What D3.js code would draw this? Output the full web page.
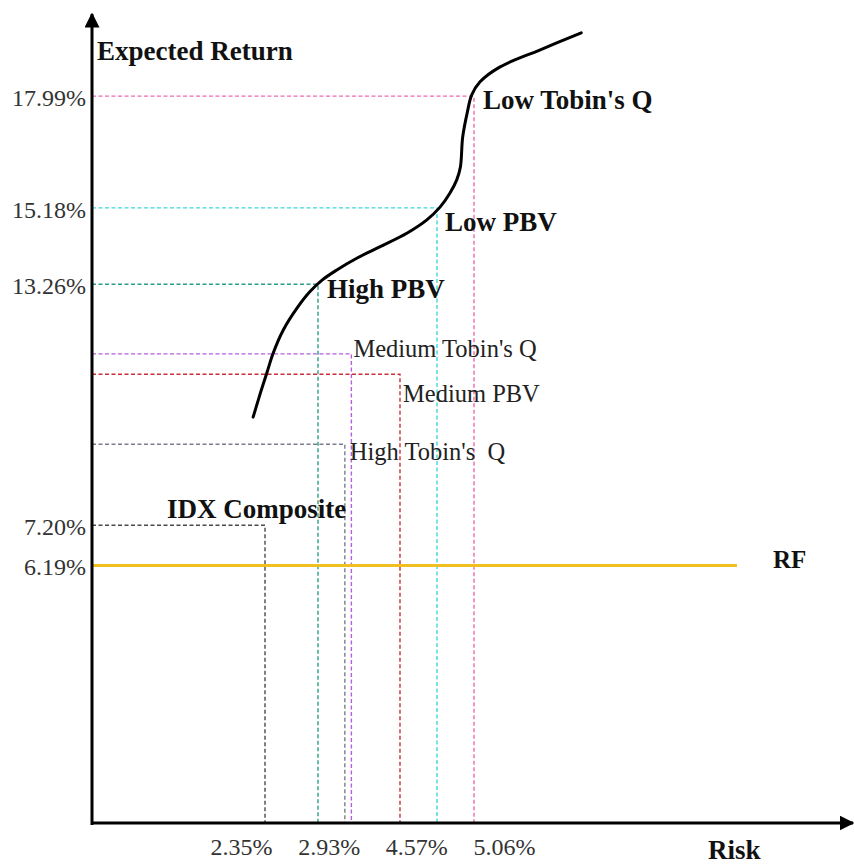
<!DOCTYPE html>
<html><head><meta charset="utf-8">
<script src="https://cdn.jsdelivr.net/npm/d3@7"></script>
<style>
html,body{margin:0;padding:0;background:#fff;}
svg{display:block;font-family:"Liberation Serif","DejaVu Serif",serif;}
</style></head>
<body>
<svg id="chart" width="854" height="865"></svg>
<script>
// ---- data ----
const portfolios = ["IDX Composite","High PBV","High Tobin's  Q","Medium Tobin's Q","Medium PBV","Low PBV","Low Tobin's Q"];
const portfolioReturn = [7.20, 13.26, 9.24, 11.51, 11.00, 15.18, 17.99];
const portfolioRisk   = [2.35, 2.93, 3.30, 3.39, 4.06, 4.57, 5.06];
const portfolioColor  = ["#4a4a4a","#2a9e86","#7c7c90","#b45ee0","#c8303c","#3fd9d9","#f06aae"];
const portfolioBold   = [true, true, false, false, false, true, true];
const yTickLabels = ["17.99%","15.18%","13.26%","7.20%","6.19%"];
const yTickValues = [17.99, 15.18, 13.26, 7.20, 6.19];
const xTickLabels = ["2.35%","2.93%","4.57%","5.06%"];
const xTickValues = [2.35, 2.93, 4.57, 5.06];
const rfRate = 6.19;
const frontierRisk   = [2.22,2.30,2.37,2.44,2.55,2.70,2.84,2.99,3.19,3.47,3.78,4.16,4.43,4.61,4.74,4.83,4.88,4.91,4.97,5.03,5.14,5.40,5.93,6.48];
const frontierReturn = [9.92,10.53,11.03,11.53,12.11,12.66,13.07,13.37,13.62,13.92,14.20,14.55,14.88,15.20,15.55,15.88,16.21,16.96,17.57,18.02,18.35,18.72,19.15,19.58];

// ---- layout ----
const svg = d3.select("#chart");
const axisX = 92, axisY = 823, axisTop = 14, axisRight = 853;
const y = d3.scaleLinear().domain([0, 20]).range([811.7, 16.2]);
const x = d3.scaleLinear().domain(xTickValues).range([265, 318, 437, 474]);
const xLab = d3.scalePoint().domain(xTickLabels).range([241, 504]);

// dashed guide lines
const g = svg.append("g");
portfolios.forEach((p, i) => {
  const px = x(portfolioRisk[i]), py = y(portfolioReturn[i]);
  g.append("path")
    .attr("d", `M${axisX},${py}H${px}V${axisY}`)
    .attr("fill", "none")
    .attr("stroke", portfolioColor[i])
    .attr("stroke-width", 1.4)
    .attr("stroke-dasharray", "4,2.5");
});

// RF line
svg.append("line")
  .attr("x1", axisX).attr("x2", 737)
  .attr("y1", y(rfRate)).attr("y2", y(rfRate))
  .attr("stroke", "#f0c020").attr("stroke-width", 3);

// frontier curve
const line = d3.line().x(d => x(d[0])).y(d => y(d[1])).curve(d3.curveCatmullRom.alpha(0.5));
svg.append("path")
  .attr("d", line(frontierRisk.map((r, i) => [r, frontierReturn[i]])))
  .attr("fill", "none").attr("stroke", "#000").attr("stroke-width", 3)
  .attr("stroke-linecap", "round");

// axes with arrows
svg.append("defs").append("marker")
  .attr("id", "arr").attr("viewBox", "0 0 10 10").attr("refX", 9).attr("refY", 5)
  .attr("markerWidth", 5).attr("markerHeight", 5).attr("orient", "auto")
  .append("path").attr("d", "M0,0L10,5L0,10Z").attr("fill", "#000");
svg.append("line").attr("x1", axisX).attr("y1", axisY + 2).attr("x2", axisX).attr("y2", axisTop)
  .attr("stroke", "#000").attr("stroke-width", 3).attr("marker-end", "url(#arr)");
svg.append("line").attr("x1", axisX - 1).attr("y1", axisY).attr("x2", axisRight).attr("y2", axisY)
  .attr("stroke", "#000").attr("stroke-width", 3).attr("marker-end", "url(#arr)");

// y tick labels
svg.append("g").selectAll("text").data(yTickValues).join("text")
  .attr("x", 86).attr("y", d => y(d)).attr("dy", "0.4em")
  .attr("text-anchor", "end").attr("font-size", 24).attr("fill", "#333")
  .text((d, i) => yTickLabels[i]);

// x tick labels
const xAxis = d3.axisBottom(xLab).tickSize(0).tickPadding(0);
const xg = svg.append("g").attr("transform", `translate(0,855)`).call(xAxis);
xg.select(".domain").remove();
xg.selectAll("text").attr("font-size", 24).attr("fill", "#333")
  .attr("font-family", "Liberation Serif, serif").attr("y", 0).attr("dy", 0);

// axis titles
svg.append("text").attr("x", 97).attr("y", 60).attr("font-size", 27).attr("font-weight", "bold").attr("fill", "#111").text("Expected Return");
svg.append("text").attr("x", 708).attr("y", 859).attr("font-size", 27).attr("font-weight", "bold").attr("fill", "#111").text("Risk");
svg.append("text").attr("x", 773).attr("y", 568).attr("font-size", 25).attr("font-weight", "bold").attr("fill", "#111").text("RF");

// portfolio labels
const labelOffsets = {
  "IDX Composite": [-98, -7],
  "High PBV": [9, 14],
  "High Tobin's  Q": [5, 16],
  "Medium Tobin's Q": [2, 3],
  "Medium PBV": [3, 28],
  "Low PBV": [8, 23],
  "Low Tobin's Q": [9, 13]
};
portfolios.forEach((p, i) => {
  const o = labelOffsets[p];
  svg.append("text")
    .attr("x", x(portfolioRisk[i]) + o[0])
    .attr("y", y(portfolioReturn[i]) + o[1])
    .attr("font-size", portfolioBold[i] ? 27 : 24.5)
    .attr("font-weight", portfolioBold[i] ? "bold" : "normal")
    .attr("fill", portfolioBold[i] ? "#111" : "#222")
    .style("white-space", "pre")
    .text(p);
});
</script>
</body></html>
